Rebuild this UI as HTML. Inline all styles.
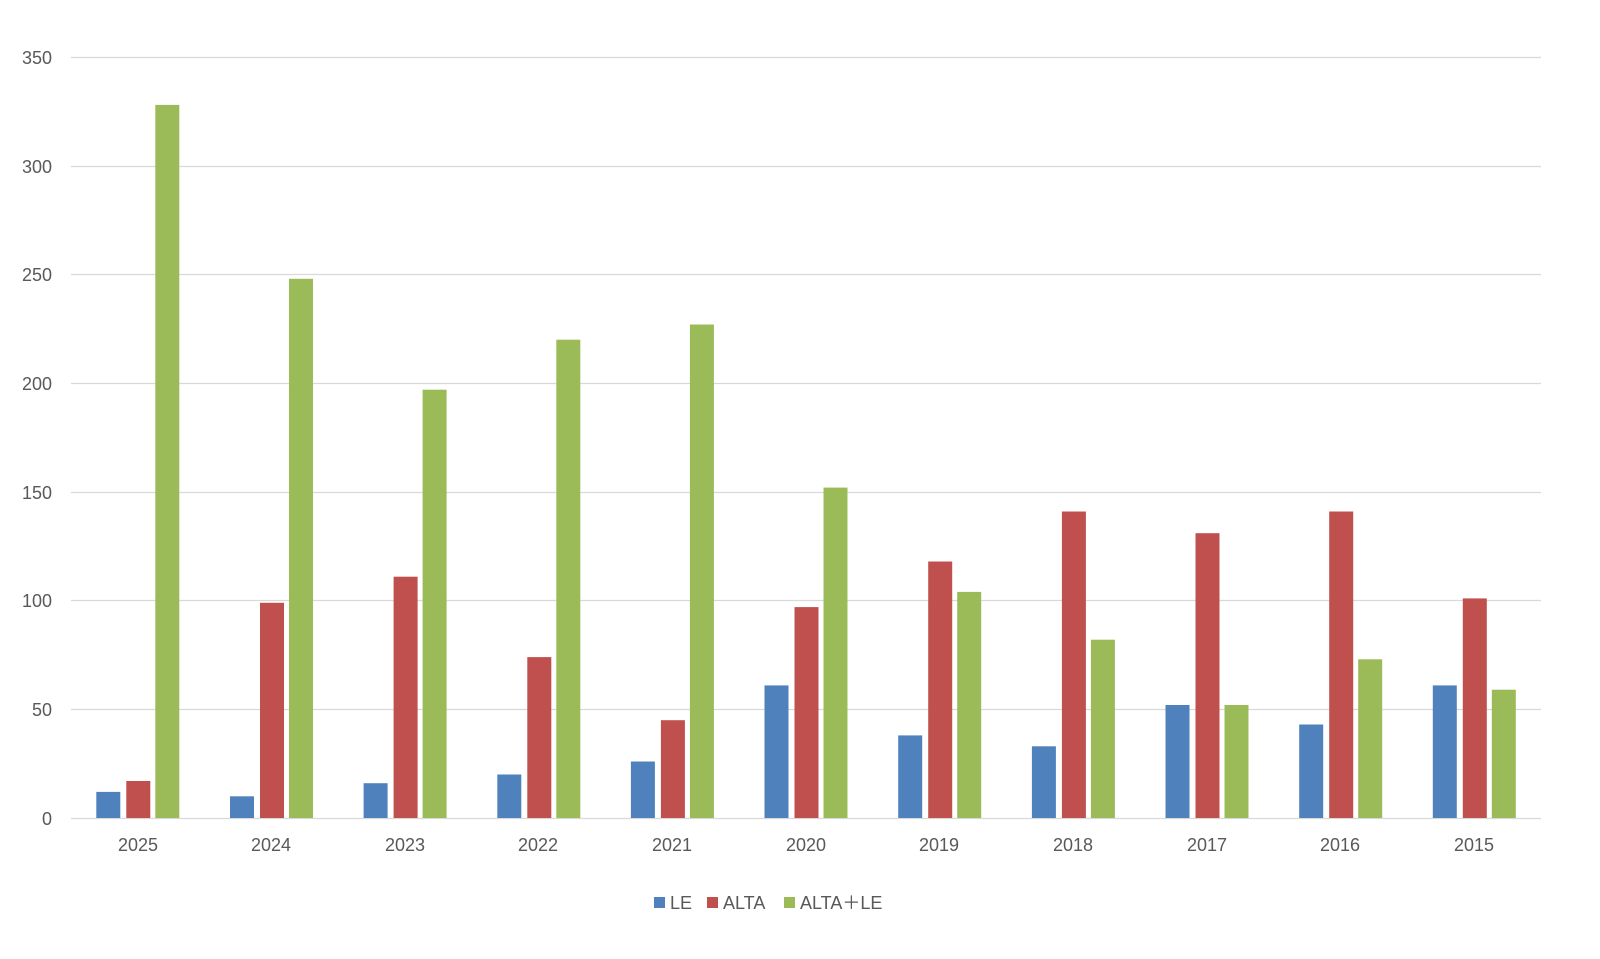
<!DOCTYPE html>
<html><head><meta charset="utf-8"><style>
html,body{margin:0;padding:0;background:#fff;}
svg text{font-family:"Liberation Sans",sans-serif;fill:#595959;font-size:18px;}
</style></head><body>
<svg id="s" width="1600" height="954" xmlns="http://www.w3.org/2000/svg">
<g stroke="#d9d9d9" stroke-width="1.3">
<line x1="71" x2="1541" y1="57.5" y2="57.5"/>
<line x1="71" x2="1541" y1="166.5" y2="166.5"/>
<line x1="71" x2="1541" y1="274.5" y2="274.5"/>
<line x1="71" x2="1541" y1="383.5" y2="383.5"/>
<line x1="71" x2="1541" y1="492.5" y2="492.5"/>
<line x1="71" x2="1541" y1="600.5" y2="600.5"/>
<line x1="71" x2="1541" y1="709.5" y2="709.5"/>
<line x1="71" x2="1541" y1="818.5" y2="818.5"/>
</g>
<g text-anchor="end">
<text x="52" y="64">350</text><text x="52" y="173">300</text><text x="52" y="281">250</text>
<text x="52" y="390">200</text><text x="52" y="499">150</text><text x="52" y="607">100</text>
<text x="52" y="716">50</text><text x="52" y="825">0</text>
</g>
<g id="bars"></g>
<g text-anchor="middle">
<text x="138" y="851">2025</text><text x="271" y="851">2024</text><text x="405" y="851">2023</text>
<text x="538" y="851">2022</text><text x="672" y="851">2021</text><text x="806" y="851">2020</text>
<text x="939" y="851">2019</text><text x="1073" y="851">2018</text><text x="1207" y="851">2017</text>
<text x="1340" y="851">2016</text><text x="1474" y="851">2015</text>
</g>
<rect x="654" y="897" width="11" height="11" fill="#4F81BD"/><text x="670" y="909">LE</text>
<rect x="707" y="897" width="11" height="11" fill="#C0504D"/><text x="723" y="909">ALTA</text>
<rect x="784" y="897" width="11" height="11" fill="#9BBB59"/><text x="800" y="909">ALTA＋LE</text>
</svg>
<script>
var d=[[12,17,328],[10,99,248],[16,111,197],[20,74,220],[26,45,227],[61,97,152],[38,118,104],[33,141,82],[52,131,52],[43,141,73],[61,101,59]];
var c=["#4F81BD","#C0504D","#9BBB59"],off=[-41.5,-11.5,17.5],g=document.getElementById("bars"),h="";
d.forEach(function(r,i){var cx=137.8+i*133.65;r.forEach(function(v,j){var hh=v*2.174;
h+='<rect x="'+(cx+off[j]).toFixed(1)+'" y="'+(818-hh).toFixed(1)+'" width="24" height="'+hh.toFixed(1)+'" fill="'+c[j]+'"/>';});});
g.innerHTML=h;
</script>
</body></html>
